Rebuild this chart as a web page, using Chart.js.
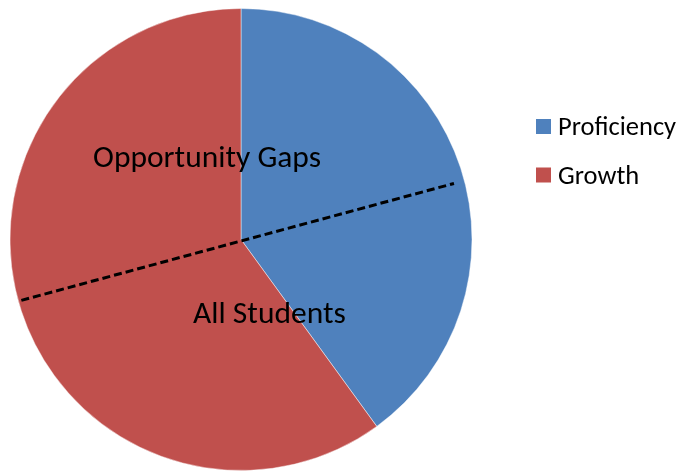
<!DOCTYPE html>
<html>
<head>
<meta charset="utf-8">
<script src="https://cdn.jsdelivr.net/npm/chart.js@4/dist/chart.umd.min.js"></script>
<style>
  html, body { margin: 0; padding: 0; background: #fff; }
  #wrap { width: 679px; height: 471px; position: relative; }
</style>
</head>
<body>
<div id="wrap"><canvas id="c" width="679" height="471"></canvas></div>
<script>
// Slice categories and their shares (percent of the whole pie)
const categories = ['Proficiency', 'Growth'];
const values = [40, 60];
const colors = ['#4F81BD', '#C0504D'];

// Student groups separated by a dashed diameter; the divider starts at this
// share of the circle (measured clockwise from 12 o'clock)
const groups = ['Opportunity Gaps', 'All Students'];
const groupDividerAt = 20.8;

const FONT = "Carlito, Calibri, 'Open Sans', 'Noto Sans', sans-serif";

const overlay = {
  id: 'overlay',
  afterDatasetsDraw(chart) {
    const ctx = chart.ctx;
    const arc = chart.getDatasetMeta(0).data[0];
    const cx = arc.x, cy = arc.y, r = arc.outerRadius;
    const total = values.reduce((a, b) => a + b, 0);
    const ang = -Math.PI / 2 + (groupDividerAt / total) * 2 * Math.PI;
    const dx = Math.cos(ang), dy = Math.sin(ang);

    // dashed divider between the two student groups
    ctx.save();
    ctx.strokeStyle = '#000';
    ctx.lineWidth = 3;
    ctx.setLineDash([8, 4]);
    ctx.beginPath();
    ctx.moveTo(cx - dx * r * 0.985, cy - dy * r * 0.985 + 1.5);
    ctx.lineTo(cx + dx * r * 0.955, cy + dy * r * 0.955 + 1.5);
    ctx.stroke();
    ctx.restore();

    // group labels on each side of the divider
    ctx.save();
    ctx.fillStyle = '#000';
    ctx.font = '31.5px ' + FONT;
    ctx.textAlign = 'center';
    ctx.textBaseline = 'alphabetic';
    ctx.fillText(groups[0], cx - r * 0.147, cy - r * 0.313);
    ctx.fillText(groups[1], cx + r * 0.123, cy + r * 0.361);
    ctx.restore();

    // legend
    ctx.save();
    ctx.font = '26.5px ' + FONT;
    ctx.textAlign = 'left';
    ctx.textBaseline = 'alphabetic';
    categories.forEach((name, i) => {
      const y = 126 + i * 48.5;
      ctx.fillStyle = colors[i];
      ctx.fillRect(536, y - 7, 15, 15);
      ctx.fillStyle = '#000';
      ctx.fillText(name, 558, y + 9);
    });
    ctx.restore();
  }
};

new Chart(document.getElementById('c'), {
  type: 'pie',
  data: {
    labels: categories,
    datasets: [{
      data: values,
      backgroundColor: colors,
      borderColor: 'rgba(255,255,255,0.45)',
      borderWidth: 1
    }]
  },
  options: {
    responsive: false,
    animation: false,
    layout: { padding: { left: 9, top: 8, right: 206, bottom: 0 } },
    plugins: {
      legend: { display: false },
      tooltip: { enabled: false }
    }
  },
  plugins: [overlay]
});
</script>
</body>
</html>
